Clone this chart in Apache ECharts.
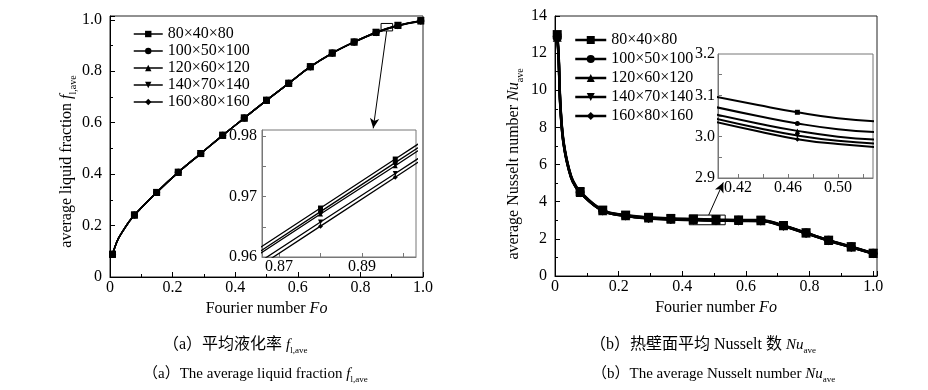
<!DOCTYPE html>
<html><head><meta charset="utf-8">
<script src="https://cdn.jsdelivr.net/npm/echarts@6/dist/echarts.min.js"></script>
<style>html,body{margin:0;padding:0;background:#fff}#c{width:928px;height:390px}</style>
</head><body><div id="c"></div>
<script>
// ---------- data ----------
const SERIES_NAMES = ['80×40×80', '100×50×100', '120×60×120', '140×70×140', '160×80×160'];

// (a) average liquid fraction, main plot
const FO_A = [0.008, 0.016, 0.027, 0.043, 0.058, 0.078, 0.149, 0.218, 0.29, 0.36, 0.429, 0.5, 0.571, 0.64, 0.71, 0.78, 0.85, 0.92, 0.993];
const FO_A_MARKED = [0.008, 0.078, 0.149, 0.218, 0.29, 0.36, 0.429, 0.5, 0.571, 0.64, 0.71, 0.78, 0.85, 0.92, 0.993];
const FL_1 = [0.088, 0.118, 0.150, 0.182, 0.210, 0.241, 0.329, 0.407, 0.480, 0.551, 0.618, 0.687, 0.753, 0.818, 0.871, 0.914, 0.952, 0.979, 0.997];
const FL_2 = [0.088, 0.118, 0.150, 0.182, 0.210, 0.241, 0.329, 0.407, 0.480, 0.551, 0.618, 0.687, 0.753, 0.818, 0.871, 0.914, 0.951, 0.978, 0.997];
const FL_3 = [0.088, 0.118, 0.150, 0.182, 0.210, 0.241, 0.329, 0.407, 0.480, 0.551, 0.618, 0.687, 0.753, 0.818, 0.871, 0.914, 0.951, 0.978, 0.996];
const FL_4 = [0.088, 0.118, 0.150, 0.182, 0.210, 0.241, 0.329, 0.407, 0.480, 0.551, 0.618, 0.687, 0.753, 0.817, 0.870, 0.913, 0.950, 0.977, 0.996];
const FL_5 = [0.088, 0.118, 0.150, 0.182, 0.210, 0.241, 0.329, 0.407, 0.480, 0.551, 0.618, 0.687, 0.753, 0.817, 0.870, 0.913, 0.950, 0.977, 0.995];

// (a) inset
const FO_AI = [0.862, 0.88, 0.898, 0.906];
const FO_AI_MARKED = [0.88, 0.898];
const FLI_1 = [0.9600, 0.9681, 0.9762, 0.9798];
const FLI_2 = [0.9594, 0.9675, 0.9756, 0.9792];
const FLI_3 = [0.9590, 0.9671, 0.9751, 0.9787];
const FLI_4 = [0.9577, 0.9658, 0.9738, 0.9774];
const FLI_5 = [0.9570, 0.9651, 0.9732, 0.9768];
const AI_X_LABELS = [0.87, 0.89];
const AI_X_TICKS = [0.87, 0.88, 0.89, 0.90];
const AI_Y_LABELS = [0.96, 0.97, 0.98];
const AI_Y_TICKS = [0.965, 0.97, 0.975, 0.98];
const ZOOM_BOX_A = [[0.866, 0.957], [0.903, 0.986]];
const ARROW_A = [[0.884, 0.957], [0.841, 0.578]];

// (b) average Nusselt number, main plot
const FO_B = [0.007, 0.011, 0.016, 0.023, 0.031, 0.042, 0.056, 0.079, 0.15, 0.222, 0.294, 0.364, 0.435, 0.506, 0.577, 0.647, 0.718, 0.789, 0.86, 0.931, 1.0];
const FO_B_MARKED = [0.007, 0.079, 0.15, 0.222, 0.294, 0.364, 0.435, 0.506, 0.577, 0.647, 0.718, 0.789, 0.86, 0.931, 1.0];
const NU_1 = [13.0, 12.1, 9.6, 7.8, 6.8, 5.9, 5.15, 4.55, 3.55, 3.28, 3.16, 3.10, 3.07, 3.04, 3.02, 3.01, 2.72, 2.33, 1.93, 1.58, 1.23];
const NU_2 = [12.9, 12.0, 9.5, 7.75, 6.75, 5.87, 5.12, 4.52, 3.53, 3.26, 3.14, 3.08, 3.045, 3.015, 3.0, 2.99, 2.71, 2.32, 1.92, 1.57, 1.22];
const NU_3 = [12.85, 11.95, 9.45, 7.7, 6.72, 5.85, 5.1, 4.5, 3.52, 3.25, 3.12, 3.06, 3.03, 3.0, 2.985, 2.975, 2.70, 2.31, 1.91, 1.56, 1.21];
const NU_4 = [12.8, 11.9, 9.4, 7.68, 6.7, 5.83, 5.08, 4.49, 3.51, 3.24, 3.11, 3.05, 3.02, 2.99, 2.975, 2.965, 2.69, 2.30, 1.90, 1.55, 1.21];
const NU_5 = [12.75, 11.85, 9.35, 7.65, 6.68, 5.81, 5.06, 4.48, 3.50, 3.23, 3.10, 3.04, 3.01, 2.98, 2.965, 2.955, 2.68, 2.30, 1.90, 1.55, 1.20];

// (b) inset
const FO_BI = [0.40, 0.436, 0.4675, 0.50, 0.53];
const FO_BI_MARKED = [0.4675];
const NUI_1 = [3.098, 3.0765, 3.059, 3.0445, 3.037];
const NUI_2 = [3.073, 3.050, 3.032, 3.018, 3.011];
const NUI_3 = [3.055, 3.032, 3.014, 3.000, 2.993];
const NUI_4 = [3.045, 3.021, 3.003, 2.990, 2.9835];
const NUI_5 = [3.037, 3.013, 2.994, 2.982, 2.975];
const BI_X_LABELS = [0.42, 0.46, 0.50];
const BI_X_TICKS = [0.42, 0.44, 0.46, 0.48, 0.50, 0.52];
const BI_Y_LABELS = [2.9, 3.0, 3.1, 3.2];
const BI_Y_TICKS = [2.95, 3.0, 3.05, 3.1, 3.15];
const ZOOM_BOX_B = [[0.422, 2.76], [0.535, 3.28]];
const ARROW_B = [[0.483, 3.28], [0.529, 5.04]];

// ---------- styling ----------
const FONT = 'Liberation Serif';
const CJK_FONT = 'Liberation Serif, Noto Sans CJK SC';
const SYMBOLS = ['rect', 'circle', 'triangle', 'triangle', 'diamond'];
const SYMBOL_ROT = [0, 0, 0, 180, 0];

const chart = echarts.init(document.getElementById('c'), null, {renderer: 'canvas'});

function buildData(xs, ys, marked) {
  return xs.map((x, k) => marked.indexOf(x) >= 0 ? [x, ys[k]] : {value: [x, ys[k]], symbol: 'none'});
}
function lineSeries(i, xs, ys, marked, axisIdx, size, width, smooth) {
  return {
    type: 'line', name: SERIES_NAMES[i], xAxisIndex: axisIdx, yAxisIndex: axisIdx,
    data: buildData(xs, ys, marked),
    symbol: SYMBOLS[i], symbolRotate: SYMBOL_ROT[i], symbolSize: size,
    showAllSymbol: true, smooth: smooth, clip: true,
    lineStyle: {color: '#000', width: width},
    itemStyle: {color: '#000', borderWidth: 0},
    emphasis: {disabled: true}, silent: true, animation: false, z: 3
  };
}

const tickLabel = {color: '#000', fontFamily: FONT, fontSize: 16, fontWeight: 'normal'};
function mainAxis(idx, opt) {
  return Object.assign({
    type: 'value', gridIndex: idx,
    axisLine: {show: true, lineStyle: {color: '#000', width: 1}},
    axisTick: {show: true, inside: true, length: 5, lineStyle: {color: '#000'}},
    minorTick: {show: true, splitNumber: 2, length: 3, lineStyle: {color: '#000'}},
    splitLine: {show: false}
  }, opt);
}
function insetAxis(idx, opt, labels, ticks, digits, margin) {
  return Object.assign({
    type: 'value', gridIndex: idx,
    axisLine: {show: true, lineStyle: {color: '#777', width: 1}},
    axisTick: {show: true, inside: true, length: 4, customValues: ticks, lineStyle: {color: '#777'}},
    axisLabel: Object.assign({customValues: labels, margin: margin, formatter: v => v.toFixed(digits)}, tickLabel),
    splitLine: {show: false}
  }, opt);
}

const nameRich = {
  n: {fontFamily: FONT, fontSize: 16, color: '#000', lineHeight: 22, fontWeight: 'normal'},
  i: {fontFamily: FONT, fontSize: 16, fontStyle: 'italic', color: '#000', lineHeight: 22, fontWeight: 'normal'},
  s: {fontFamily: FONT, fontSize: 10, color: '#000', lineHeight: 10, verticalAlign: 'bottom', fontWeight: 'normal'}
};
const capRich = {
  t: {fontFamily: CJK_FONT, fontSize: 16, color: '#000', lineHeight: 20, fontWeight: 'normal'},
  e: {fontFamily: CJK_FONT, fontSize: 15, color: '#000', lineHeight: 20, fontWeight: 'normal'},
  i: {fontFamily: FONT, fontSize: 15, fontStyle: 'italic', color: '#000', lineHeight: 20, fontWeight: 'normal'},
  s: {fontFamily: FONT, fontSize: 9, color: '#000', lineHeight: 9, verticalAlign: 'bottom', fontWeight: 'normal'}
};

const series = [];
const FL = [FL_1, FL_2, FL_3, FL_4, FL_5];
const FLI = [FLI_1, FLI_2, FLI_3, FLI_4, FLI_5];
const NU = [NU_1, NU_2, NU_3, NU_4, NU_5];
const NUI = [NUI_1, NUI_2, NUI_3, NUI_4, NUI_5];
for (let i = 0; i < 5; i++) series.push(lineSeries(i, FO_A, FL[i], FO_A_MARKED, 0, 7, 1.5, 0.4));
for (let i = 0; i < 5; i++) series.push(lineSeries(i, FO_B, NU[i], FO_B_MARKED, 2, 9, 2.5, 0.4));
for (let i = 0; i < 5; i++) series.push(lineSeries(i, FO_AI, FLI[i], FO_AI_MARKED, 1, 5, 1.3, false));
for (let i = 0; i < 5; i++) series.push(lineSeries(i, FO_BI, NUI[i], FO_BI_MARKED, 3, 5, 2, 0.5));

function annot(box, arrow) {
  return {
    markArea: {silent: true, itemStyle: {color: 'rgba(0,0,0,0)', borderColor: '#000', borderWidth: 1},
      data: [[{coord: box[0]}, {coord: box[1]}]]},
    markLine: {silent: true, symbol: ['none', 'arrow'], symbolSize: [7, 10], animation: false,
      lineStyle: {color: '#000', width: 1, type: 'solid'}, label: {show: false},
      data: [[{coord: arrow[0]}, {coord: arrow[1]}]]}
  };
}
Object.assign(series[0], annot(ZOOM_BOX_A, ARROW_A));
Object.assign(series[5], annot(ZOOM_BOX_B, ARROW_B));

const legendText = {color: '#000', fontFamily: FONT, fontSize: 16, fontWeight: 'normal'};
const capStyle = {rich: capRich, fontWeight: 'normal'};
const option = {
  animation: false,
  backgroundColor: '#fff',
  textStyle: {fontFamily: FONT},
  grid: [
    {left: 110, top: 16, width: 313, height: 261, show: true, borderColor: '#222', borderWidth: 1},
    {left: 262, top: 130, width: 154, height: 127, show: true, borderColor: '#777', borderWidth: 1},
    {left: 555, top: 16, width: 322, height: 260, show: true, borderColor: '#222', borderWidth: 1},
    {left: 718, top: 54, width: 155, height: 124, show: true, borderColor: '#777', borderWidth: 1}
  ],
  xAxis: [
    mainAxis(0, {min: 0, max: 1, interval: 0.2,
      axisLabel: Object.assign({margin: 3, formatter: v => v === 0 ? '0' : v.toFixed(1)}, tickLabel),
      name: '{n|Fourier number }{i|Fo}', nameLocation: 'middle', nameGap: 20,
      nameTextStyle: {rich: nameRich}}),
    insetAxis(1, {min: 0.8659, max: 0.903}, AI_X_LABELS, AI_X_TICKS, 2, 2),
    mainAxis(2, {min: 0, max: 1.012, interval: 0.2,
      axisLabel: Object.assign({margin: 3, showMaxLabel: false, formatter: v => v === 0 ? '0' : v.toFixed(1)}, tickLabel),
      name: '{n|Fourier number }{i|Fo}', nameLocation: 'middle', nameGap: 20,
      nameTextStyle: {rich: nameRich}}),
    insetAxis(3, {min: 0.404, max: 0.528}, BI_X_LABELS, BI_X_TICKS, 2, 2)
  ],
  yAxis: [
    mainAxis(0, {min: 0, max: 1.015, interval: 0.2,
      axisLabel: Object.assign({margin: 8, showMaxLabel: false, formatter: v => v === 0 ? '0' : v.toFixed(1)}, tickLabel),
      name: '{n|average liquid fraction }{i|f}{s|l,ave}', nameLocation: 'middle', nameGap: 30, nameRotate: 90,
      nameTextStyle: {rich: nameRich, padding: [0, 30, 0, 0]}}),
    insetAxis(1, {min: 0.96, max: 0.981}, AI_Y_LABELS, AI_Y_TICKS, 2, 5),
    mainAxis(2, {min: 0, max: 14, interval: 2,
      axisLabel: Object.assign({margin: 8, formatter: v => String(v)}, tickLabel),
      name: '{n|average Nusselt number }{i|Nu}{s|ave}', nameLocation: 'middle', nameGap: 30, nameRotate: 90,
      nameTextStyle: {rich: nameRich, padding: [0, 36, 0, 0]}}),
    insetAxis(3, {min: 2.9, max: 3.2}, BI_Y_LABELS, BI_Y_TICKS, 1, 3)
  ],
  legend: [
    {data: SERIES_NAMES, orient: 'vertical', left: 128, top: 21, itemWidth: 29, itemHeight: 8, itemGap: 1,
      selectedMode: false, textStyle: legendText,
      lineStyle: {width: 1.5, color: '#000'}, itemStyle: {color: '#000'}},
    {data: SERIES_NAMES, orient: 'vertical', left: 569, top: 27, itemWidth: 31, itemHeight: 10, itemGap: 3,
      selectedMode: false, textStyle: legendText,
      lineStyle: {width: 2.5, color: '#000'}, itemStyle: {color: '#000'}}
  ],
  title: [
    {text: '{t|（a）平均液化率 }{i|f}{s|l,ave}', left: 158, top: 330, textStyle: capStyle},
    {text: '{e|（a）The average liquid fraction }{i|f}{s|l,ave}', left: 138, top: 359, textStyle: capStyle},
    {text: '{t|（b）热壁面平均 Nusselt 数 }{i|Nu}{s|ave}', left: 585, top: 330, textStyle: capStyle},
    {text: '{e|（b）The average Nusselt number }{i|Nu}{s|ave}', left: 587, top: 359, textStyle: capStyle}
  ],
  series: series
};
chart.setOption(option);
</script></body></html>
